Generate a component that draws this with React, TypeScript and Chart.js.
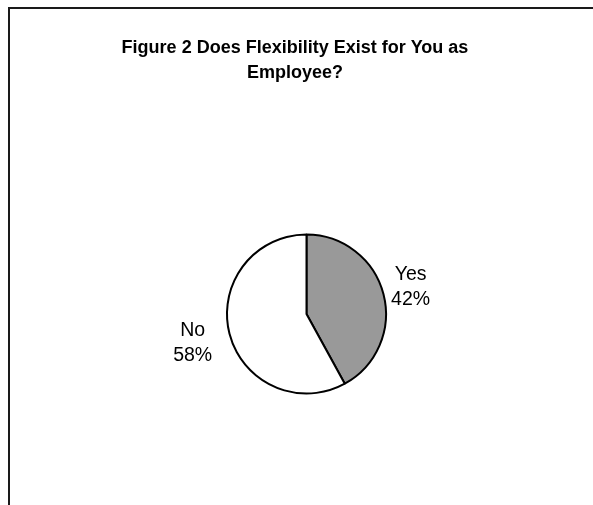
import React, { useEffect, useRef } from "react";
import { Chart, registerables } from "chart.js";

Chart.register(...registerables);

const titleLines = ["Figure 2 Does Flexibility Exist for You as", "Employee?"];
const categories = ["Yes", "No"];
const percentages = [42, 58];
const sliceColors = ["#999999", "#ffffff"];

const W = 593;
const H = 505;
const FONT = "'Liberation Sans', Arial, sans-serif";
// Distance of each label block centre beyond the pie's rim
const labelGap = [28, 38];

// Frame lines along the top and left edges plus the two-line bold title
const framePlugin = {
  id: "frameAndTitle",
  afterDraw(chart: any) {
    const ctx = chart.ctx;
    ctx.save();
    ctx.strokeStyle = "#1a1a1a";
    ctx.lineWidth = 2;
    ctx.beginPath();
    ctx.moveTo(W, 8);
    ctx.lineTo(9, 8);
    ctx.lineTo(9, H);
    ctx.stroke();

    ctx.fillStyle = "#000";
    ctx.font = `bold 18px ${FONT}`;
    ctx.textAlign = "center";
    ctx.textBaseline = "middle";
    titleLines.forEach((line, i) => ctx.fillText(line, 295, 48 + i * 25));
    ctx.restore();
  },
};

// Category name and percent placed outside each slice along its mid angle
const sliceLabelPlugin = {
  id: "sliceLabels",
  afterDatasetsDraw(chart: any) {
    const ctx = chart.ctx;
    const meta = chart.getDatasetMeta(0);
    ctx.save();
    ctx.fillStyle = "#000";
    ctx.font = `19.5px ${FONT}`;
    ctx.textAlign = "center";
    ctx.textBaseline = "middle";
    meta.data.forEach((arc: any, i: number) => {
      const { x, y, startAngle, endAngle, outerRadius } = arc.getProps(
        ["x", "y", "startAngle", "endAngle", "outerRadius"],
        true
      );
      const mid = (startAngle + endAngle) / 2;
      const d = outerRadius + labelGap[i];
      const cx = x + Math.cos(mid) * d;
      const cy = y + Math.sin(mid) * d;
      ctx.fillText(categories[i], cx, cy - 12.5);
      ctx.fillText(`${percentages[i]}%`, cx, cy + 12.5);
    });
    ctx.restore();
  },
};

export default function App() {
  const canvasRef = useRef<HTMLCanvasElement | null>(null);

  useEffect(() => {
    if (!canvasRef.current) return;
    const chart = new Chart(canvasRef.current, {
      type: "pie",
      data: {
        labels: categories,
        datasets: [
          {
            data: percentages,
            backgroundColor: sliceColors,
            borderColor: "#000000",
            borderWidth: 2,
          },
        ],
      },
      options: {
        responsive: false,
        animation: false,
        devicePixelRatio: 1,
        layout: {
          padding: { top: 233, bottom: 110, left: 226, right: 206 },
        },
        plugins: {
          legend: { display: false },
          title: { display: false },
          tooltip: { enabled: false },
        },
      },
      plugins: [framePlugin, sliceLabelPlugin],
    });
    return () => chart.destroy();
  }, []);

  return (
    <div style={{ position: "fixed", left: 0, top: 0, width: W, height: H, background: "#fff" }}>
      <canvas ref={canvasRef} width={W} height={H} style={{ width: W, height: H, display: "block" }} />
    </div>
  );
}
